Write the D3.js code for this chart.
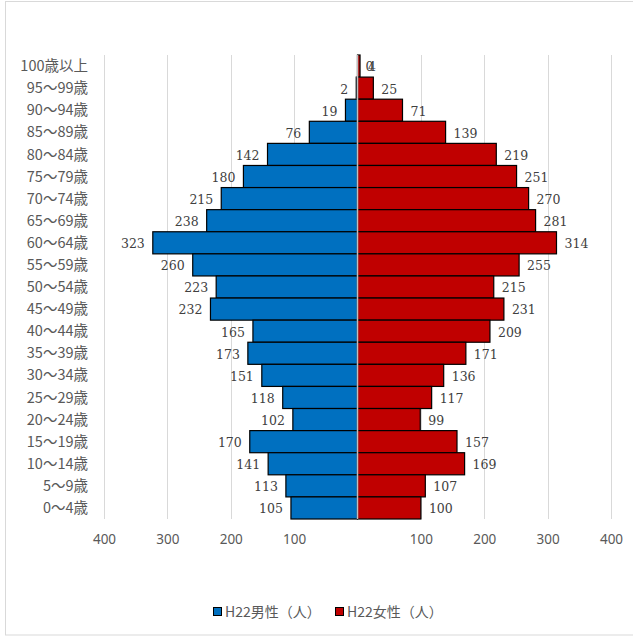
<!DOCTYPE html>
<html><head><meta charset="utf-8">
<script src="https://cdn.jsdelivr.net/npm/d3@7"></script>
<style>html,body{margin:0;padding:0;background:#fff;}</style>
</head><body>
<svg id="chart" width="633" height="636"></svg>
<script>
const categories = ["100歳以上","95〜99歳","90〜94歳","85〜89歳","80〜84歳","75〜79歳","70〜74歳","65〜69歳","60〜64歳","55〜59歳","50〜54歳","45〜49歳","40〜44歳","35〜39歳","30〜34歳","25〜29歳","20〜24歳","15〜19歳","10〜14歳","5〜9歳","0〜4歳"];
const male   = [0,2,19,76,142,180,215,238,323,260,223,232,165,173,151,118,102,170,141,113,105];
const female = [4,25,71,139,219,251,270,281,314,255,215,231,209,171,136,117,99,157,169,107,100];
const tickValues = [-400,-300,-200,-100,100,200,300,400];
const seriesNames = ["H22男性（人）","H22女性（人）"];
const colors = ["#0070C0","#C00000"];

const svg = d3.select("#chart");
const W = 633, H = 636;
svg.append("rect").attr("x",5.5).attr("y",1.5).attr("width",W).attr("height",H-2.5)
  .attr("fill","#fff").attr("stroke","#D9D9D9").attr("stroke-width",1);

const x = d3.scaleLinear().domain([-400,400]).range([104,611]);
const y = d3.scaleBand().domain(categories).range([55,519]).padding(0);

// gridlines
svg.append("g").selectAll("line").data(tickValues).join("line")
  .attr("x1",d=>Math.round(x(d))+0.5).attr("x2",d=>Math.round(x(d))+0.5)
  .attr("y1",55).attr("y2",519).attr("stroke","#D9D9D9").attr("stroke-width",1);

// category labels
svg.append("g").selectAll("text").data(categories).join("text")
  .attr("x",88).attr("y",d=>y(d)+y.bandwidth()/2).attr("dy","0.35em")
  .attr("text-anchor","end").attr("font-family","'Noto Sans CJK JP','Noto Sans',sans-serif")
  .attr("font-size",14.5).attr("fill","#595959").text(d=>d);

// male bars
svg.append("g").selectAll("rect").data(categories).join("rect")
  .attr("x",(d,i)=>x(-male[i])).attr("y",d=>y(d))
  .attr("width",(d,i)=>x(0)-x(-male[i])).attr("height",y.bandwidth())
  .attr("fill",colors[0]).attr("stroke","#000").attr("stroke-width",1.2);
// female bars
svg.append("g").selectAll("rect").data(categories).join("rect")
  .attr("x",x(0)).attr("y",d=>y(d))
  .attr("width",(d,i)=>x(female[i])-x(0)).attr("height",y.bandwidth())
  .attr("fill",colors[1]).attr("stroke","#000").attr("stroke-width",1.2);

// center axis
svg.append("line").attr("x1",x(0)).attr("x2",x(0)).attr("y1",55).attr("y2",519)
  .attr("stroke","#BFBFBF").attr("stroke-width",1.5);

// value labels
const vfont = "'DejaVu Serif','Liberation Serif',serif";
svg.append("g").selectAll("text").data(categories).join("text")
  .attr("x",(d,i)=> male[i]===0 ? x(0)+8 : x(-male[i])-8)
  .attr("y",d=>y(d)+y.bandwidth()/2+1).attr("dy","0.35em")
  .attr("text-anchor",(d,i)=> male[i]===0 ? "start" : "end")
  .attr("font-family",vfont).attr("font-size",12.5).attr("fill","#404040")
  .text((d,i)=>male[i]);
svg.append("g").selectAll("text").data(categories).join("text")
  .attr("x",(d,i)=>x(female[i])+8)
  .attr("y",d=>y(d)+y.bandwidth()/2+1).attr("dy","0.35em")
  .attr("text-anchor","start")
  .attr("font-family",vfont).attr("font-size",12.5).attr("fill","#404040")
  .text((d,i)=>female[i]);

// x axis labels
const axis = d3.axisBottom(x).tickValues(tickValues).tickFormat(d=>Math.abs(d)).tickSize(0).tickPadding(0);
const ga = svg.append("g").attr("transform","translate(0,534)").call(axis);
ga.select(".domain").remove();
ga.selectAll("text").attr("font-family","'Noto Sans','Open Sans',sans-serif").attr("font-size",13.5).attr("fill","#595959");

// legend
const legend = svg.append("g").attr("font-family","'Noto Sans CJK JP','Noto Sans',sans-serif").attr("font-size",14).attr("fill","#595959");
const lx = [213, 335];
seriesNames.forEach((n,i)=>{
  legend.append("rect").attr("x",lx[i]+0.5).attr("y",607.5).attr("width",8).attr("height",8)
    .attr("fill",colors[i]).attr("stroke","#000").attr("stroke-width",1);
  legend.append("text").attr("x",lx[i]+12).attr("y",612).attr("dy","0.35em").text(n);
});
</script>
</body></html>
